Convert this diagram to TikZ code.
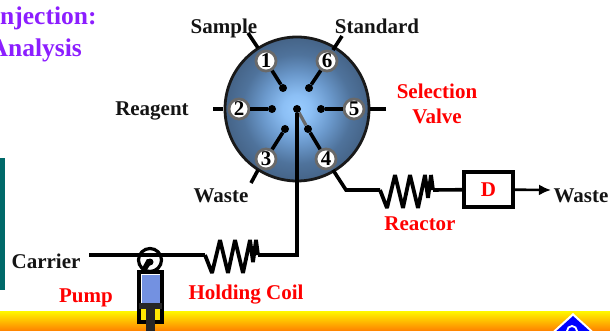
\documentclass[tikz,border=0pt]{standalone}
\usepackage{fontspec}
\setmainfont{Liberation Serif}
\usetikzlibrary{arrows.meta}
\definecolor{purp}{RGB}{140,30,255}
\definecolor{lab}{RGB}{20,20,20}
\definecolor{portgray}{RGB}{105,105,105}
\definecolor{cyl}{RGB}{115,145,225}
\definecolor{barteal}{RGB}{0,105,105}
\pgfdeclareradialshading{valveshade}{\pgfpoint{0bp}{0bp}}{rgb(0bp)=(.60,.80,1);rgb(5bp)=(.55,.75,.96);rgb(12bp)=(.42,.60,.80);rgb(19bp)=(.31,.45,.61);rgb(28bp)=(.25,.36,.49);rgb(50bp)=(.22,.33,.45)}
\tikzset{
  x=1pt,y=-1pt,
  blk/.style={font=\bfseries\fontsize{21}{21}\selectfont,text=lab,inner sep=0pt},
  rd/.style={font=\bfseries\fontsize{21}{21}\selectfont,text=red,inner sep=0pt},
  pu/.style={font=\bfseries\fontsize{25.5}{25.5}\selectfont,text=purp,inner sep=0pt},
  pipe/.style={line width=3.6pt,draw=black,line join=miter},
  stub/.style={line width=3.6pt,draw=black},
  port/.style={circle,draw=portgray,line width=2.8pt,fill=white,minimum size=20pt,inner sep=0pt,text=black,font=\bfseries\fontsize{21}{21}\selectfont},
  dotn/.style={circle,fill=black,minimum size=8pt,inner sep=0pt},
  coil/.style={line width=3.8pt,draw=black,line join=miter,miter limit=2.5},
}
\begin{document}
\begin{tikzpicture}
\useasboundingbox (0,0) rectangle (610,331);
% background
\shade[top color=yellow!95!orange,bottom color=orange] (0,311) rectangle (610,331);
\fill[barteal] (0,158) rectangle (4.5,290);
% diamond
\fill[white] (573,313) -- (596,334) -- (550,334) -- cycle;
\fill[blue] (573,316) -- (593,334) -- (553,334) -- cycle;
\draw[white,line width=1.8pt] (572,331) circle (5);
% title
\node[pu,anchor=west] (t1) at (0,18) {njection:};
\node[pu,anchor=east] (t2) at (82,50) {Analysis};
% valve
\path[shading=valveshade] (297,109) circle (72);
\draw[line width=2.8pt,draw=black!90] (297,109) circle (72);
\node[circle,minimum size=146pt,inner sep=0pt] (valve) at (297,109) {};
\node[port] (p1) at (266,61) {1};
\node[port] (p2) at (239,109) {2};
\node[port] (p3) at (266,159) {3};
\node[port] (p4) at (326,159) {4};
\node[port] (p5) at (354,109) {5};
\node[port] (p6) at (327,61) {6};
\node[dotn] (d1) at (283,88) {};
\node[dotn] (d2) at (272,109) {};
\node[dotn] (d3) at (285,129) {};
\node[dotn] (d4) at (308,129) {};
\node[dotn] (d5) at (321,109) {};
\node[dotn] (d6) at (309,88) {};
\node[dotn] (dc) at (297,109) {};
\foreach \i in {1,...,6} {\draw[stub] (p\i) -- (d\i);}
\draw[line width=3.2pt,draw=portgray] (dc) -- (d4);
% stubs
\coordinate (s1a) at (248,33); \coordinate (s1b) at (258,48);
\coordinate (s6a) at (342,36); \coordinate (s6b) at (333,50);
\coordinate (s2a) at (213,109); \coordinate (s2b) at (223,109);
\coordinate (s5a) at (386,109); \coordinate (s5b) at (370,109);
\coordinate (s3a) at (251,183); \coordinate (s3b) at (258,170);
\draw[stub] (s1a) -- (s1b);
\draw[stub] (s6a) -- (s6b);
\draw[stub] (s2a) -- (s2b);
\draw[stub] (s5a) -- (s5b);
\draw[stub] (s3a) -- (s3b);
% reactor line
\coordinate (o4) at (333,170);
\coordinate (r1) at (380,190);
\coordinate (r2) at (433,190);
\node[draw=black,line width=4pt,fill=white,minimum width=49pt,minimum height=35pt,inner sep=0pt,text=red,font=\bfseries\fontsize{21}{21}\selectfont] (det) at (488.5,189.5) {D};
\draw[pipe] (o4) -- (346,190) -- (r1);
\draw[coil] (r1) -- (387,208) -- (395,175) -- (403,208) -- (410,175) -- (418,208) -- (425,175) -- (428,198) -- (431,175) -- (r2);
\draw[pipe] (r2) -- (det);
\coordinate (wasteend) at (551,190);
\draw[line width=2.6pt,-{Latex[length=12pt,width=11pt]}] (det) -- (wasteend);
% carrier line
\coordinate (cs) at (89,255);
\coordinate (c1) at (205,255);
\coordinate (c2) at (258,255);
\draw[pipe] (cs) -- (c1);
\draw[coil] (c1) -- (212,273) -- (220,240) -- (228,273) -- (235,240) -- (243,273) -- (250,240) -- (253,262) -- (256,240) -- (c2);
\draw[pipe] (c2) -- (297,255) -- (dc);
% pump
\node[circle,draw=black,line width=3.2pt,minimum size=23pt,inner sep=0pt] (head) at (150,260) {};
\fill (150,262) circle (3.5);
\fill (147,259) -- (153,261) -- (146,271) -- (142,268) -- cycle;
\draw[line width=3.4pt,draw=black,fill=white] (139,272) rectangle (162,322);
\fill[yellow!90!orange] (141,309) rectangle (160,320);
\fill[cyl] (141.5,275) rectangle (159.5,303);
\fill[black!85] (139,303) rectangle (162,309);
\fill[black!85] (146,309) rectangle (155,331);
% labels
\node[blk] (lsample) at (224,28) {Sample};
\node[blk] (lstd) at (377,26) {Standard};
\node[blk] (lreag) at (152,111) {Reagent};
\node[blk] (lwaste) at (221,196) {Waste};
\node[rd] (lsel) at (437,91) {Selection};
\node[rd] (lval) at (437,116) {Valve};
\node[rd] (lreac) at (420,224) {Reactor};
\node[blk] (lw2) at (581,196) {Waste};
\node[blk] (lcar) at (46,261) {Carrier};
\node[rd] (lpump) at (86,298) {Pump};
\node[rd] (lhold) at (246,295) {Holding Coil};
\end{tikzpicture}
\end{document}
